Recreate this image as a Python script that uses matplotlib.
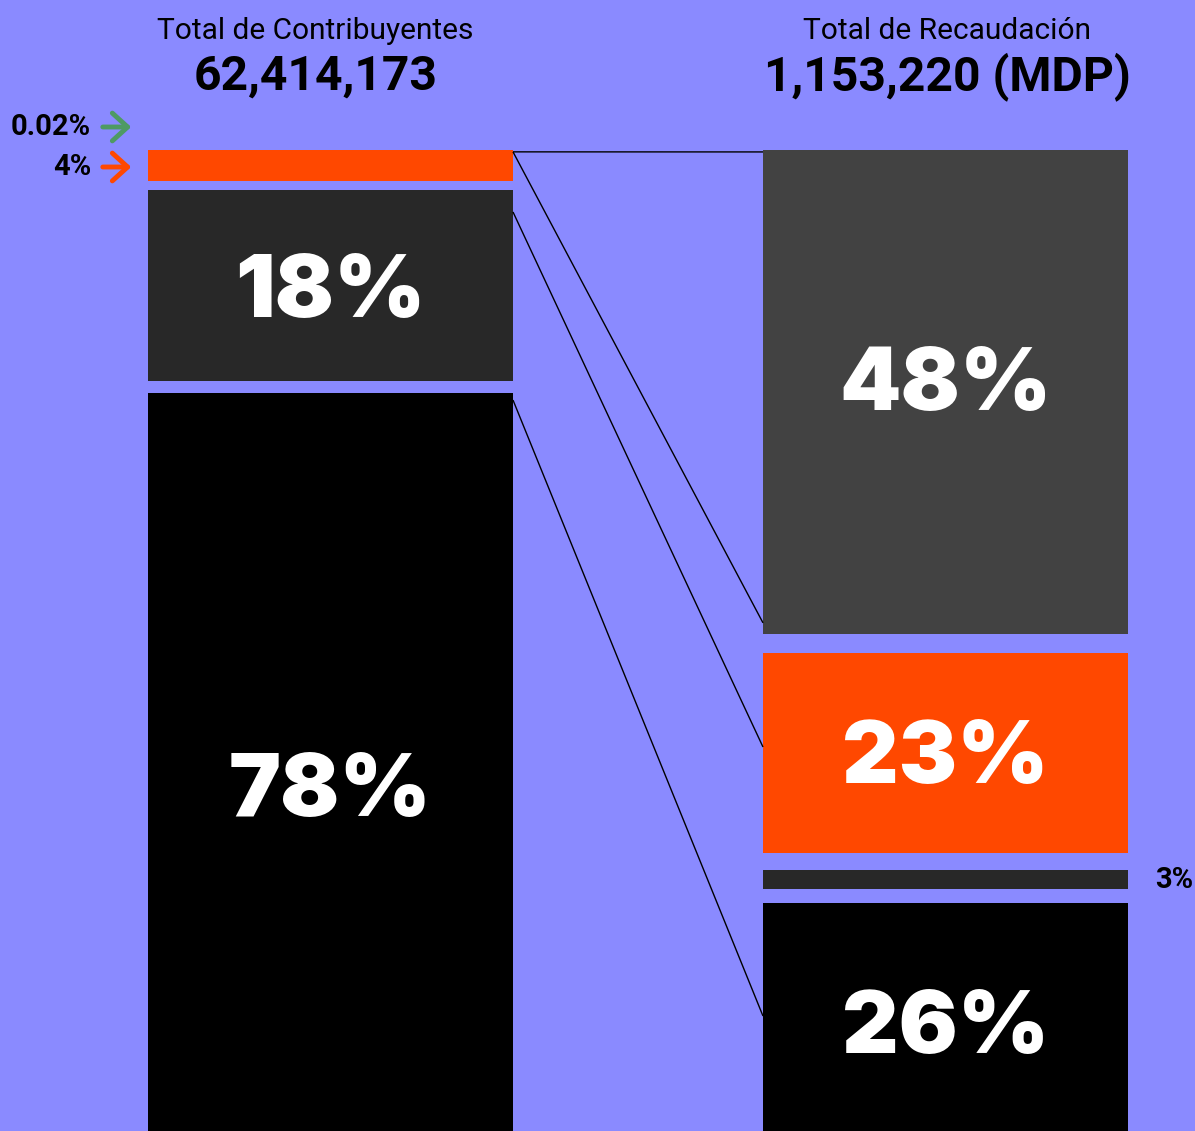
"""
Contribuyentes vs recaudacion: dos columnas apiladas unidas con lineas.
"""

import matplotlib
matplotlib.use('Agg')
import matplotlib.pyplot as plt

# ---- datos ----
izq_titulo = 'Total de Contribuyentes'
izq_total = '62,414,173'
izq_etiquetas = ['0.02%', '4%', '18%', '78%']
izq_colores = ['#4E9A63', '#FF4800', '#282828', '#000000']
izq_alto = [0, 31, 191, 784]      # alto visual de cada bloque (px)
izq_hueco = [0, 9, 12]            # separacion tras cada bloque

der_titulo = 'Total de Recaudación'
der_total = '1,153,220 (MDP)'
der_etiquetas = ['48%', '23%', '3%', '26%']
der_colores = ['#424242', '#FF4800', '#282828', '#000000']
der_alto = [484, 200, 19, 238]
der_hueco = [19, 17, 14]

# (bloque izq, fraccion, bloque der, fraccion)
conexiones = [(1, 0.06, 0, 0.004),
              (1, 0.06, 0, 0.977),
              (2, 0.115, 1, 0.47),
              (3, 0.009, 3, 0.475)]

FONDO = '#8A8AFF'
W, H = 1195, 1131
x_izq, x_der, ancho = 330.5, 945.5, 365
y0 = 150


def tops(altos, huecos):
    out = [y0]
    for a, h in zip(altos[:-1], huecos):
        out.append(out[-1] + a + h)
    return out


fig = plt.figure(figsize=(W/100., H/100.), dpi=100, facecolor=FONDO)
ax = fig.add_axes([0, 0, 1, 1])
ax.set_facecolor(FONDO)
ax.set_xlim(0, W)
ax.set_ylim(H, 0)
ax.axis('off')

t_izq = tops(izq_alto, izq_hueco)
t_der = tops(der_alto, der_hueco)

ax.bar([x_izq]*4, izq_alto, bottom=t_izq, width=ancho, color=izq_colores)
ax.bar([x_der]*4, der_alto, bottom=t_der, width=ancho, color=der_colores)

# lineas de union
for i, fi, j, fj in conexiones:
    ya = t_izq[i] + fi*izq_alto[i]
    yb = t_der[j] + fj*der_alto[j]
    ax.plot([x_izq + ancho/2, x_der - ancho/2], [ya, yb], color='black',
            lw=1, solid_capstyle='butt')

big = dict(family=['Inter', 'DejaVu Sans'], weight='black', fontsize=63,
           color='white', ha='center', va='baseline')
small = dict(family='Roboto', weight='bold', fontsize=21, color='black',
             va='center')

# etiquetas grandes dentro de los bloques (baseline bajo el centro)
ax.text(x_izq, t_izq[2] + izq_alto[2]/2 + 31, izq_etiquetas[2], **big)
ax.text(x_izq, t_izq[3] + izq_alto[3]/2 + 31, izq_etiquetas[3], **big)
ax.text(x_der, t_der[0] + der_alto[0]/2 + 18, der_etiquetas[0], **big)
ax.text(x_der, t_der[1] + der_alto[1]/2 + 30, der_etiquetas[1], **big)
ax.text(x_der, t_der[3] + der_alto[3]/2 + 31, der_etiquetas[3], **big)

# etiquetas pequenas con flecha
for k, yy in [(0, 127), (1, 167)]:
    ax.text(91, yy, izq_etiquetas[k], ha='right', **small)
    ax.annotate('', xy=(134, yy), xytext=(100, yy),
                arrowprops=dict(arrowstyle='->,head_length=0.55,head_width=0.5',
                                mutation_scale=20, lw=3.5,
                                color=izq_colores[k]))
ax.text(1155, t_der[2] + der_alto[2]/2, der_etiquetas[2], ha='left', **small)

# titulos
for x, tit, tot in [(x_izq - 15, izq_titulo, izq_total),
                    (x_der + 2, der_titulo, der_total)]:
    ax.text(x, 31, tit, family='Roboto', fontsize=21.5, ha='center',
            va='center', color='black')
    ax.text(x, 77, tot, family='Roboto', weight='bold', fontsize=34.7,
            ha='center', va='center', color='black')

fig.savefig('out.png', dpi=100, facecolor=FONDO)
plt.close('all')
